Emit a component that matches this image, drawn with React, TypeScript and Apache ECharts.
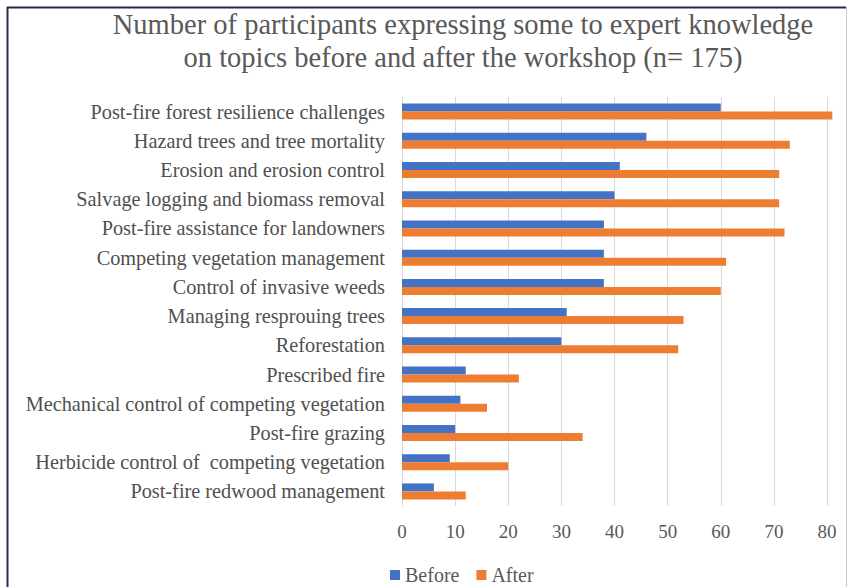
import React, { useEffect, useRef } from "react";
import * as echarts from "echarts";

const titleText =
  "Number of participants expressing some to expert knowledge\non topics before and after the workshop (n= 175)";

const categories = [
  "Post-fire forest resilience challenges",
  "Hazard trees and tree mortality",
  "Erosion and erosion control",
  "Salvage logging and biomass removal",
  "Post-fire assistance for landowners",
  "Competing vegetation management",
  "Control of invasive weeds",
  "Managing resprouing trees",
  "Reforestation",
  "Prescribed fire",
  "Mechanical control of competing vegetation",
  "Post-fire grazing",
  "Herbicide control of  competing vegetation",
  "Post-fire redwood management",
];

const beforeValues = [60, 46, 41, 40, 38, 38, 38, 31, 30, 12, 11, 10, 9, 6];
const afterValues = [81, 73, 71, 71, 72, 61, 60, 53, 52, 22, 16, 34, 20, 12];

const seriesNames = ["Before", "After"];

const FONT = "'Liberation Serif', 'Times New Roman', serif";

export default function App() {
  const ref = useRef<HTMLDivElement>(null);

  useEffect(() => {
    if (!ref.current) return;
    const chart = echarts.init(ref.current, null, { renderer: "svg" });
    chart.setOption({
      animation: false,
      backgroundColor: "#ffffff",
      title: {
        text: titleText,
        left: 458,
        top: 3,
        textAlign: "center",
        textStyle: {
          fontFamily: FONT,
          fontSize: 28.5,
          fontWeight: "normal",
          color: "#595959",
          lineHeight: 33,
        },
      },
      legend: {
        data: seriesNames,
        left: 385,
        top: 560,
        itemWidth: 10,
        itemHeight: 10,
        itemGap: 17,
        icon: "rect",
        textStyle: { fontFamily: FONT, fontSize: 20, color: "#595959" },
      },
      grid: { left: 402, right: 21, top: 97, bottom: 81, containLabel: false },
      xAxis: {
        type: "value",
        min: 0,
        max: 80,
        interval: 10,
        axisLine: { show: false },
        axisTick: { show: false },
        splitLine: { lineStyle: { color: "#d9d9d9", width: 1 } },
        axisLabel: { fontFamily: FONT, fontSize: 19, color: "#595959", margin: 16 },
      },
      yAxis: {
        type: "category",
        inverse: true,
        data: categories,
        axisTick: { show: false },
        axisLine: { show: true, lineStyle: { color: "#d9d9d9" } },
        axisLabel: { fontFamily: FONT, fontSize: 20.3, color: "#505050", margin: 17 },
      },
      series: [
        {
          name: seriesNames[0],
          type: "bar",
          data: beforeValues,
          barWidth: 8,
          barGap: "0%",
          clip: false,
          itemStyle: { color: "#4472C4" },
        },
        {
          name: seriesNames[1],
          type: "bar",
          data: afterValues,
          barWidth: 8,
          barGap: "0%",
          clip: false,
          itemStyle: { color: "#ED7D31" },
        },
      ],
      graphic: [
        {
          type: "line",
          shape: { x1: 7.5, y1: 7, x2: 7.5, y2: 587 },
          style: { stroke: "#2b2a4e", lineWidth: 2 },
        },
        {
          type: "line",
          shape: { x1: 7, y1: 7.5, x2: 846, y2: 7.5 },
          style: { stroke: "#2b2a4e", lineWidth: 2 },
        },
        {
          type: "line",
          shape: { x1: 846.5, y1: 7, x2: 846.5, y2: 587 },
          style: { stroke: "#c8c8d0", lineWidth: 1 },
        },
      ],
    });
    return () => chart.dispose();
  }, []);

  return (
    <div style={{ position: "absolute", left: 0, top: 0, width: 848, height: 587 }}>
      <div ref={ref} style={{ width: 848, height: 587 }} />
    </div>
  );
}
